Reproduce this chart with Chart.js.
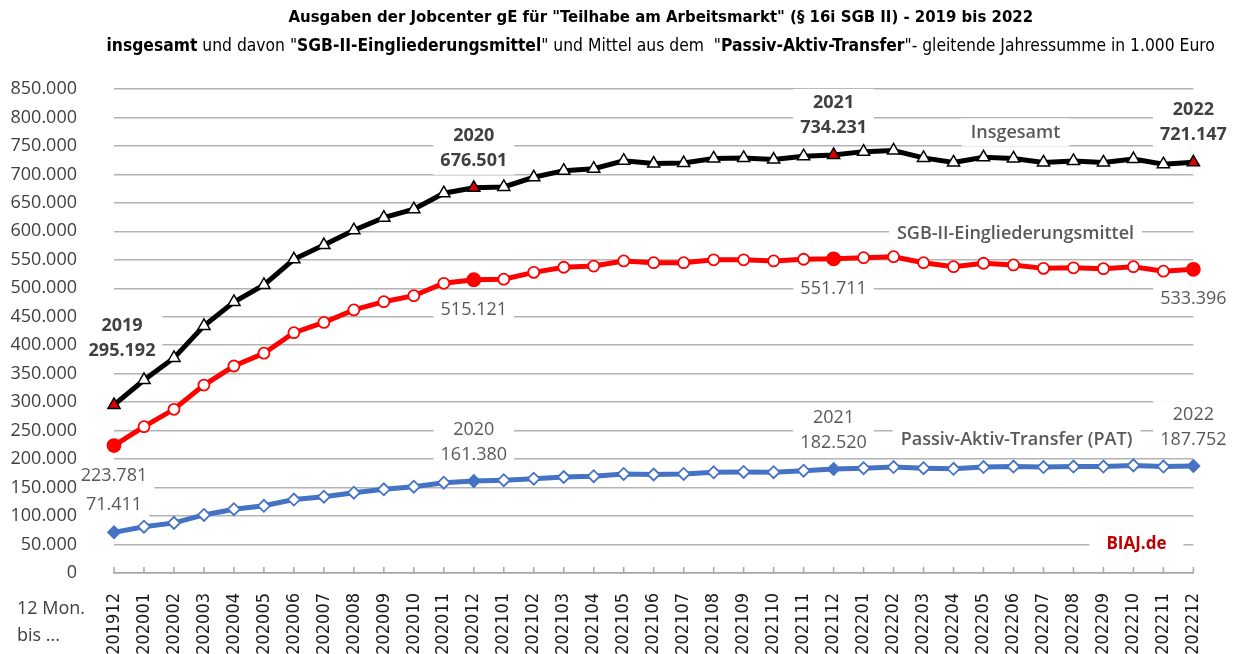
<!DOCTYPE html>
<html lang="de">
<head>
<meta charset="UTF-8">
<title>Ausgaben der Jobcenter gE für Teilhabe am Arbeitsmarkt</title>
<script src="https://cdn.jsdelivr.net/npm/chart.js"></script>
<style>
  html, body { margin: 0; padding: 0; background: #fff; }
  #wrap { width: 1235px; height: 654px; }
</style>
</head>
<body>
<div id="wrap"><canvas id="chart" width="1235" height="654"></canvas></div>
<script>
// 12 Monate bis ... (gleitende Jahressumme, in 1.000 Euro)
const months = ['201912', '202001', '202002', '202003', '202004', '202005', '202006', '202007',
    '202008', '202009', '202010', '202011', '202012', '202101', '202102', '202103', '202104',
    '202105', '202106', '202107', '202108', '202109', '202110', '202111', '202112', '202201',
    '202202', '202203', '202204', '202205', '202206', '202207', '202208', '202209', '202210',
    '202211', '202212'];

const insgesamt = [295192, 339000, 377600, 434000, 476000, 506000, 551000, 576000, 602000, 624000,
    639000, 667000, 676501, 678000, 695000, 706600, 710000, 724000, 719000, 720000, 728000, 729000,
    726000, 732000, 734231, 740000, 742000, 729000, 721000, 730000, 728000, 721000, 723600, 721000,
    727000, 718000, 721147];

const sgb2 = [223781, 257000, 287500, 330000, 363500, 386000, 422000, 440000, 462000, 476500,
    487000, 508800, 515121, 516000, 528000, 537000, 539000, 548000, 545000, 545000, 550000, 550000,
    548000, 551000, 551711, 553700, 555500, 545000, 538000, 544000, 541000, 535000, 536000, 534500,
    538000, 530000, 533396];

const pat = [71411, 81300, 88000, 102000, 112000, 118000, 129000, 134000, 141000, 147000,
    151600, 158600, 161380, 163000, 165600, 168600, 170000, 174000, 173000, 174000, 176800, 177400,
    177000, 179700, 182520, 184000, 186000, 184000, 183000, 186000, 187000, 186000, 187000, 187000,
    189000, 187000, 187752];

const yearIdx = [0, 12, 24, 36];
const years = ['2019', '2020', '2021', '2022'];
const yTickMax = 850000;
const yTickStep = 50000;

const SANS = "'Open Sans', sans-serif";
const COND = "'DejaVu Sans Condensed', sans-serif";
const NARROW = "'Liberation Sans Narrow', 'DejaVu Sans Condensed', sans-serif";

function fmt(v) {
    return String(Math.round(v)).replace(/\B(?=(\d{3})+(?!\d))/g, '.');
}

const title1 = [['Ausgaben der Jobcenter gE für "Teilhabe am Arbeitsmarkt" (§ 16i SGB II) - 2019 bis 2022', true]];
const title2 = [
    ['insgesamt', true], [' und davon "', false], ['SGB-II-Eingliederungsmittel', true],
    ['" und Mittel aus dem  "', false], ['Passiv-Aktiv-Transfer', true],
    ['"- gleitende Jahressumme in 1.000 Euro', false]
];

// labels at the year-end points
const notes = [];
yearIdx.forEach((idx, k) => {
    notes.push({ ds: 0, idx, dx: k === 0 ? 8 : 0, dys: k === 0 ? [-79, -54] : [-52, -27],
        lines: [years[k], fmt(insgesamt[idx])], weight: 'bold', color: '#404040' });
    notes.push({ ds: 1, idx, dx: 0, dys: [30], lines: [fmt(sgb2[idx])], weight: 'normal', color: '#595959' });
    if (k === 0) {
        notes.push({ ds: 2, idx, dx: 0, dys: [-27], lines: [fmt(pat[idx])], weight: 'normal', color: '#595959' });
    } else {
        notes.push({ ds: 2, idx, dx: 0, dys: [-51, -26], lines: [years[k], fmt(pat[idx])], weight: 'normal', color: '#595959' });
    }
});
notes.push({ ds: 0, idx: 30, dx: 2, dys: [-26], lines: ['Insgesamt'], weight: '600', color: '#595959', pad: 9 });
notes.push({ ds: 1, idx: 30, dx: 2, dys: [-31], lines: ['SGB-II-Eingliederungsmittel'], weight: '600', color: '#595959', pad: 8 });
notes.push({ ds: 2, idx: 30, dx: 3, dys: [-27], lines: ['Passiv-Aktiv-Transfer (PAT)'], weight: '600', color: '#595959', pad: 8 });

function notePos(chart, n) {
    const pt = chart.getDatasetMeta(n.ds).data[n.idx];
    return { x: pt.x + n.dx, y: pt.y };
}

function drawRich(ctx, parts, cx, y, target) {
    const font = (b, s) => (b ? 'bold ' : '') + s + 'px ' + NARROW;
    let w = 0;
    parts.forEach(p => { ctx.font = font(p[1], 16); w += ctx.measureText(p[0]).width; });
    const size = 16 * target / w;
    let x = cx - target / 2;
    ctx.textAlign = 'left';
    parts.forEach(p => {
        ctx.font = font(p[1], size);
        ctx.fillText(p[0], x, y);
        x += ctx.measureText(p[0]).width;
    });
}

const labelPlugin = {
    id: 'labels',
    beforeDatasetsDraw(chart) {
        const ctx = chart.ctx;
        ctx.save();
        ctx.fillStyle = '#fff';
        notes.forEach(n => {
            const p = notePos(chart, n);
            ctx.font = n.weight + ' 18px ' + SANS;
            const w = Math.max(...n.lines.map(t => ctx.measureText(t).width));
            const pad = n.pad || 7;
            const top = p.y + n.dys[0] - 14;
            const bot = p.y + n.dys[n.dys.length - 1] + 14;
            ctx.fillRect(p.x - w / 2 - pad, top, w + 2 * pad, bot - top);
        });
        // BIAJ.de
        const xs = chart.scales.x, ys = chart.scales.y;
        const bx = xs.getPixelForValue(34) + 3, by = ys.getPixelForValue(50000);
        ctx.font = 'bold 17px ' + SANS;
        const bw = ctx.measureText('BIAJ.de').width;
        ctx.fillRect(bx - bw / 2 - 17, by - 12, bw + 34, 24);
        ctx.restore();
    },
    afterDatasetsDraw(chart) {
        const ctx = chart.ctx;
        ctx.save();
        ctx.textAlign = 'center';
        ctx.textBaseline = 'middle';
        notes.forEach(n => {
            const p = notePos(chart, n);
            ctx.font = n.weight + ' 18px ' + SANS;
            ctx.fillStyle = n.color;
            n.lines.forEach((t, i) => ctx.fillText(t, p.x, p.y + n.dys[i]));
        });
        const xs = chart.scales.x, ys = chart.scales.y;
        ctx.font = 'bold 17px ' + SANS;
        ctx.fillStyle = '#c00000';
        ctx.fillText('BIAJ.de', xs.getPixelForValue(34) + 3, ys.getPixelForValue(50000));

        // inside tick marks on the category axis
        ctx.strokeStyle = '#a6a6a6';
        ctx.lineWidth = 1.5;
        const b = chart.chartArea.bottom;
        months.forEach((m, i) => {
            const x = xs.getPixelForTick(i);
            ctx.beginPath();
            ctx.moveTo(x, b - 6);
            ctx.lineTo(x, b);
            ctx.stroke();
        });
        ctx.restore();
    },
    afterDraw(chart) {
        const ctx = chart.ctx;
        ctx.save();
        ctx.fillStyle = '#000';
        ctx.textBaseline = 'middle';
        drawRich(ctx, title1, 661, 18, 745);
        drawRich(ctx, title2, 661, 46, 1109);
        ctx.font = '18px ' + SANS;
        ctx.fillStyle = '#404040';
        ctx.textAlign = 'left';
        ctx.fillText('12 Mon.', 17, 609);
        ctx.fillText('bis ...', 17, 636);
        ctx.restore();
    }
};

const isKey = c => yearIdx.includes(c.dataIndex);

new Chart(document.getElementById('chart'), {
    type: 'line',
    data: {
        labels: months,
        datasets: [{
            label: 'Insgesamt',
            data: insgesamt,
            borderColor: '#000',
            borderWidth: 5,
            pointStyle: 'triangle',
            pointRadius: 7,
            pointBorderWidth: 1.5,
            pointBorderColor: '#000',
            pointBackgroundColor: c => isKey(c) ? '#e00000' : '#fff'
        }, {
            label: 'SGB-II-Eingliederungsmittel',
            data: sgb2,
            borderColor: '#ff0000',
            borderWidth: 5,
            pointStyle: 'circle',
            pointRadius: c => isKey(c) ? 6.5 : 5.5,
            pointBorderWidth: 1.8,
            pointBorderColor: '#ff0000',
            pointBackgroundColor: c => isKey(c) ? '#ff0000' : '#fff'
        }, {
            label: 'Passiv-Aktiv-Transfer (PAT)',
            data: pat,
            borderColor: '#4472c4',
            borderWidth: 5,
            pointStyle: 'rectRot',
            pointRadius: 6,
            pointBorderWidth: 1.8,
            pointBorderColor: '#4472c4',
            pointBackgroundColor: c => isKey(c) ? '#4472c4' : '#fff'
        }]
    },
    options: {
        responsive: false,
        animation: false,
        events: [],
        layout: { padding: { top: 89, right: 36, left: 0, bottom: 0 } },
        plugins: { legend: { display: false }, tooltip: { enabled: false }, title: { display: false } },
        scales: {
            x: {
                type: 'category',
                offset: false,
                grid: { display: false, drawTicks: false },
                border: { display: true, color: '#a6a6a6', width: 1.5 },
                ticks: {
                    autoSkip: false, maxRotation: 90, minRotation: 90, padding: 20,
                    color: '#1a1a1a', font: { family: COND, size: 18 }
                },
                afterFit(s) { s.height = 81; }
            },
            y: {
                min: 0,
                max: yTickMax,
                ticks: {
                    stepSize: yTickStep, padding: 37, color: '#404040', z: 1,
                    font: { family: SANS, size: 18 },
                    callback: v => fmt(v)
                },
                grid: { color: '#b3b3b3', lineWidth: 1.5, drawTicks: false },
                border: { display: false },
                afterFit(s) { s.width = 114; }
            }
        }
    },
    plugins: [labelPlugin]
});
</script>
</body>
</html>
